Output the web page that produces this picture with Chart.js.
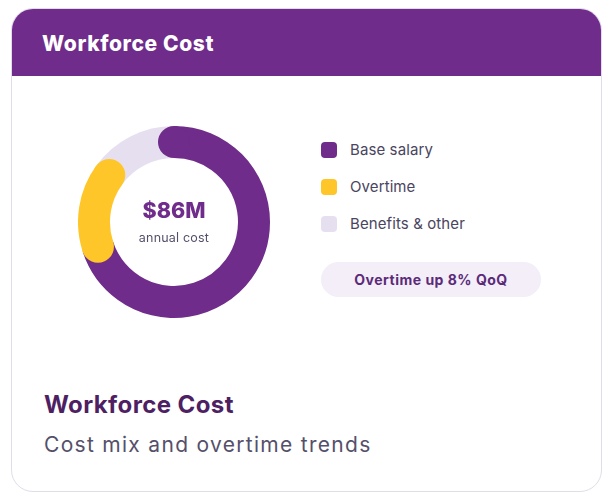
<!DOCTYPE html>
<html>
<head>
<meta charset="utf-8">
<script src="https://cdn.jsdelivr.net/npm/chart.js@4.4.1/dist/chart.umd.min.js"></script>
<style>
  html, body { margin: 0; padding: 0; background: #fff; }
  body { width: 611px; height: 500px; position: relative; font-family: Inter, "Noto Sans", sans-serif; }
  .card {
    position: absolute; left: 11px; top: 8px; width: 589px; height: 482px;
    border: 1px solid #e2dcea; border-radius: 22px; overflow: hidden; background: #fff;
  }
  .head {
    height: 67px; background: #6f2c8a; color: #fff;
    font-size: 21px; font-weight: 800; line-height: 69px; padding-left: 30px; letter-spacing: 0.6px;
  }
  .chart-box { position: absolute; left: 66px; top: 117px; width: 192px; height: 192px; }
  .center { position: absolute; left: 66px; top: 117px; width: 192px; height: 192px; text-align: center; pointer-events: none; }
  .center .big { position: absolute; left: 0; right: 0; top: 71px; font-size: 21.5px; font-weight: 800; color: #6f2c8a; }
  .center .small { position: absolute; left: 0; right: 0; top: 104px; font-size: 12.5px; color: #55506a; letter-spacing: 0.2px; }
  .legend { position: absolute; left: 309px; top: 122px; }
  .legend .row { height: 37px; display: flex; align-items: center; font-size: 15px; color: #4a4560; letter-spacing: 0.1px; }
  .legend .sw { width: 16px; height: 16px; border-radius: 4px; margin-right: 13px; }
  .pill {
    position: absolute; left: 309px; top: 253px; width: 220px; height: 35px; border-radius: 18px;
    background: #f3eef8; color: #5b2a79; font-size: 14px; font-weight: 700; text-align: center; line-height: 35px; letter-spacing: 0.5px;
  }
  .title { position: absolute; left: 32px; top: 381px; font-size: 24px; font-weight: 700; color: #4e1f63; letter-spacing: 0.4px; }
  .sub { position: absolute; left: 32px; top: 423px; font-size: 21px; color: #55506a; letter-spacing: 1.3px; }
</style>
</head>
<body>
<div class="card">
  <div class="head">Workforce Cost</div>
  <div class="chart-box"><canvas id="costChart"></canvas></div>
  <div class="center"><div class="big">$86M</div><div class="small">annual cost</div></div>
  <div class="legend" id="legend"></div>
  <div class="pill">Overtime up 8% QoQ</div>
  <div class="title">Workforce Cost</div>
  <div class="sub">Cost mix and overtime trends</div>
</div>
<script>
// cost mix, share of total (%)
var categories = ["Base salary", "Overtime", "Benefits & other"];
var shares = [70, 15, 15];
var colors = ['#6f2c8a', '#ffc629', '#e6dff0'];

// legend
var legend = document.getElementById("legend");
categories.forEach(function (name, i) {
  var row = document.createElement("div");
  row.className = "row";
  row.innerHTML = '<span class="sw" style="background:' + colors[i] + '"></span>' + name;
  legend.appendChild(row);
});

// round caps on the coloured segments, drawn over the neighbours
var roundCaps = {
  id: 'roundCaps',
  afterDatasetsDraw: function (chart) {
    var ctx = chart.ctx;
    var arcs = chart.getDatasetMeta(0).data;
    function cap(arc, angle, color) {
      var p = arc.getProps(['x', 'y', 'innerRadius', 'outerRadius']);
      var r = (p.innerRadius + p.outerRadius) / 2;
      var w = (p.outerRadius - p.innerRadius) / 2;
      ctx.beginPath();
      ctx.fillStyle = color;
      ctx.arc(p.x + Math.cos(angle) * r, p.y + Math.sin(angle) * r, w, 0, Math.PI * 2);
      ctx.fill();
    }
    ctx.save();
    cap(arcs[0], arcs[0].startAngle, colors[0]);
    cap(arcs[1], arcs[1].startAngle, colors[1]);
    cap(arcs[1], arcs[1].endAngle, colors[1]);
    ctx.restore();
  }
};

var ctxD = document.getElementById("costChart").getContext('2d');
var costChart = new Chart(ctxD, {
  type: 'doughnut',
  data: {
    labels: categories,
    datasets: [{
      data: shares,
      backgroundColor: colors,
      borderWidth: 0
    }]
  },
  options: {
    responsive: true,
    maintainAspectRatio: false,
    animation: false,
    cutout: 64,
    plugins: {
      legend: { display: false },
      tooltip: { enabled: false }
    }
  },
  plugins: [roundCaps]
});
</script>
</body>
</html>
